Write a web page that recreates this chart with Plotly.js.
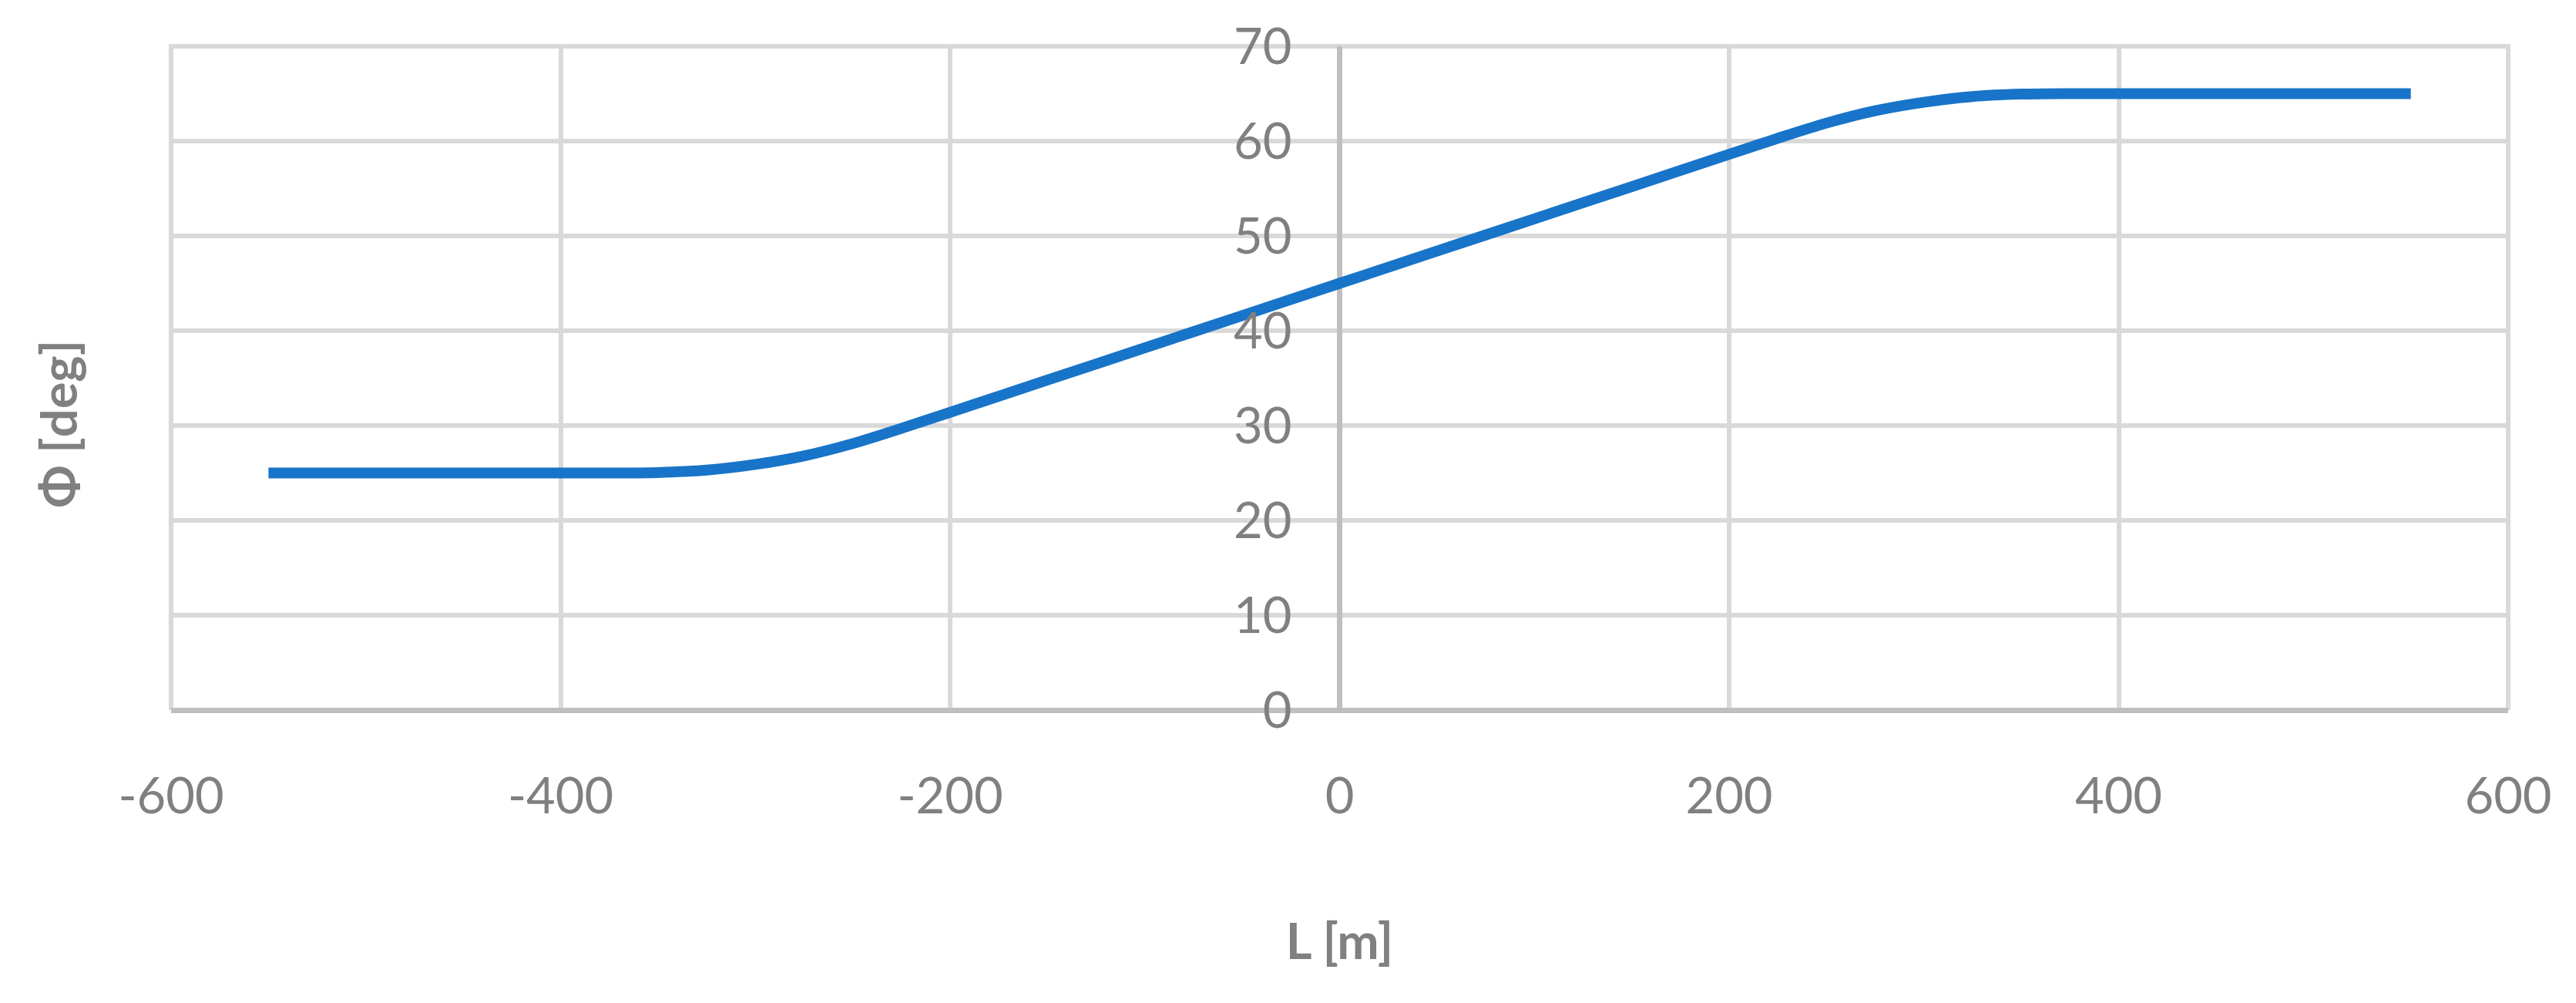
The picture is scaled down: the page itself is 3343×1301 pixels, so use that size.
<!DOCTYPE html>
<html>
<head>
<meta charset="utf-8">
<script src="https://cdn.plot.ly/plotly-3.0.1.min.js"></script>
<style>html,body{margin:0;padding:0;background:#fff;}#chart{width:3343px;height:1301px;}</style>
</head>
<body>
<div id="chart"></div>
<script>
// Distance along the section L [m]
const L_m = [-550, -500, -450, -400, -375, -350, -325, -300, -275, -250, -225, -200, -150, -100, -50, 0, 50, 100, 150, 200, 225, 250, 275, 300, 325, 350, 375, 400, 450, 500, 550];
// Angle Φ [deg]
const phi_deg = [25, 25, 25, 25, 25, 25.05, 25.3, 25.9, 26.8, 28.1, 29.7, 31.4, 34.8, 38.2, 41.6, 45, 48.4, 51.8, 55.2, 58.6, 60.3, 61.9, 63.2, 64.1, 64.7, 64.95, 65, 65, 65, 65, 65];
const xTicks = [-600, -400, -200, 0, 200, 400, 600];
const yTicks = [0, 10, 20, 30, 40, 50, 60, 70];

const grey = '#808080';
const fontFam = 'Lato, "Open Sans", sans-serif';
const fs = 65;

const trace = {
  x: L_m, y: phi_deg, type: 'scatter', mode: 'lines',
  line: {color: '#1874C8', width: 14, shape: 'spline', smoothing: 0.8},
  hoverinfo: 'x+y', showlegend: false
};

const layout = {
  width: 3343, height: 1301,
  margin: {l: 222, r: 88, t: 60, b: 380},
  paper_bgcolor: '#ffffff', plot_bgcolor: '#ffffff',
  font: {family: fontFam, color: grey, size: fs},
  xaxis: {
    range: [-600, 600], tickvals: xTicks, ticktext: xTicks.map(String),
    showgrid: true, gridcolor: '#D9D9D9', gridwidth: 6,
    zeroline: true, zerolinecolor: '#BFBFBF', zerolinewidth: 7,
    showline: false, ticks: '', ticklabelstandoff: 68,
    tickfont: {family: fontFam, size: fs, color: grey},
    title: {text: '<b>L [m]</b>', font: {family: fontFam, size: fs, color: grey}, standoff: 130},
    automargin: false
  },
  yaxis: {
    range: [0, 70], tickvals: yTicks, ticktext: yTicks.map(String),
    anchor: 'free', position: 0.5,
    showgrid: true, gridcolor: '#D9D9D9', gridwidth: 6,
    zeroline: true, zerolinecolor: '#BFBFBF', zerolinewidth: 7,
    showline: false, ticks: '', ticklabelstandoff: 62,
    tickfont: {family: fontFam, size: fs, color: grey},
    automargin: false
  },
  shapes: [{
    type: 'path', xref: 'paper', yref: 'paper', layer: 'below',
    path: 'M0,0 L0,1 L1,1 L1,0',
    line: {color: '#D9D9D9', width: 6}
  }],
  annotations: [{
    text: '<b>Φ [deg]</b>', textangle: -90, xref: 'paper', yref: 'paper',
    x: -0.0485, y: 0.431, xanchor: 'center', yanchor: 'middle', showarrow: false,
    font: {family: fontFam, size: fs, color: grey}
  }]
};

Plotly.newPlot('chart', [trace], layout, {displayModeBar: false, staticPlot: true});
</script>
</body>
</html>
